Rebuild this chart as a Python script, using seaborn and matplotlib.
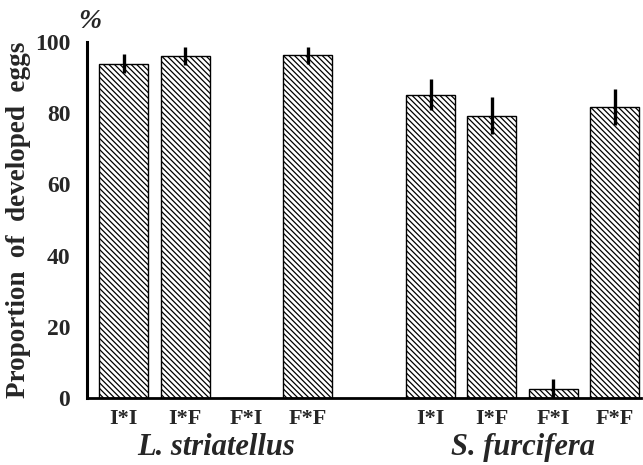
import pandas as pd
import matplotlib.pyplot as plt
import seaborn as sns

species = ["L. striatellus", "S. furcifera"]
crosses = ["I*I", "I*F", "F*I", "F*F"]
striatellus_vals = [93.9, 96.0, 0.0, 96.3]
striatellus_err = [2.6, 2.6, 0.0, 2.4]
furcifera_vals = [85.2, 79.3, 2.5, 81.8]
furcifera_err = [4.4, 5.2, 2.8, 5.0]

rows = []
for sp, vals, errs in [(species[0], striatellus_vals, striatellus_err),
                       (species[1], furcifera_vals, furcifera_err)]:
    for c, v, e in zip(crosses, vals, errs):
        rows.append({"key": sp + " " + c, "cross": c, "species": sp, "value": v, "err": e})
    if sp == species[0]:
        rows.append({"key": "gap", "cross": "", "species": "", "value": 0.0, "err": 0.0})
df = pd.DataFrame(rows)
df_bars = df[df["key"] != "gap"]
order = list(df["key"])

sns.set_style("white")
plt.rcParams["font.family"] = ["Liberation Serif", "DejaVu Serif"]
plt.rcParams["font.weight"] = "bold"
plt.rcParams["hatch.linewidth"] = 0.9

fig = plt.figure(figsize=(6.43, 4.65), dpi=100)
ax = fig.add_axes([87 / 643, 67 / 465, 554 / 643, 356 / 465])

sns.barplot(data=df_bars, x="key", y="value", order=order, color="white",
            edgecolor="black", linewidth=1.0, width=0.8, errorbar=None, ax=ax)
for p in ax.patches:
    p.set_hatch("\\\\\\\\\\\\")

pos = [order.index(k) for k in df_bars["key"]]
has_err = df_bars["err"].values > 0
ax.errorbar([p for p, h in zip(pos, has_err) if h],
            df_bars["value"].values[has_err], yerr=df_bars["err"].values[has_err],
            fmt="none", ecolor="black", elinewidth=2.4, capsize=0)

ax.set_xlim(-0.6, 8.43)
ax.set_ylim(0, 100)
ax.set_yticks([0, 20, 40, 60, 80, 100])
ax.tick_params(axis="y", direction="in", length=4, width=1.2, pad=12, labelsize=17)
ax.tick_params(axis="x", length=0, pad=8, labelsize=16)
ax.set_xticks(range(len(order)))
ax.set_xticklabels(list(df["cross"]))
for lab in ax.get_xticklabels() + ax.get_yticklabels():
    lab.set_fontweight("bold")

sns.despine(ax=ax)
ax.spines["left"].set_linewidth(2.2)
ax.spines["bottom"].set_linewidth(2.0)
ax.spines["left"].set_color("black")
ax.spines["bottom"].set_color("black")

ax.set_xlabel("")
ax.set_ylabel("Proportion  of  developed  eggs", fontsize=19.5, fontweight="bold", labelpad=3)

for sp in species:
    idx = [order.index(k) for k in df_bars[df_bars["species"] == sp]["key"]]
    center = sum(idx) / len(idx)
    ax.text(center, -0.14, sp, transform=ax.get_xaxis_transform(), ha="center", va="center",
            fontsize=22, fontweight="bold", fontstyle="italic")

fig.text(90 / 643, 1 - 22 / 465, "%", ha="center", va="center", fontsize=20,
         fontweight="bold", fontstyle="italic")

fig.savefig("out.png", dpi=100)
